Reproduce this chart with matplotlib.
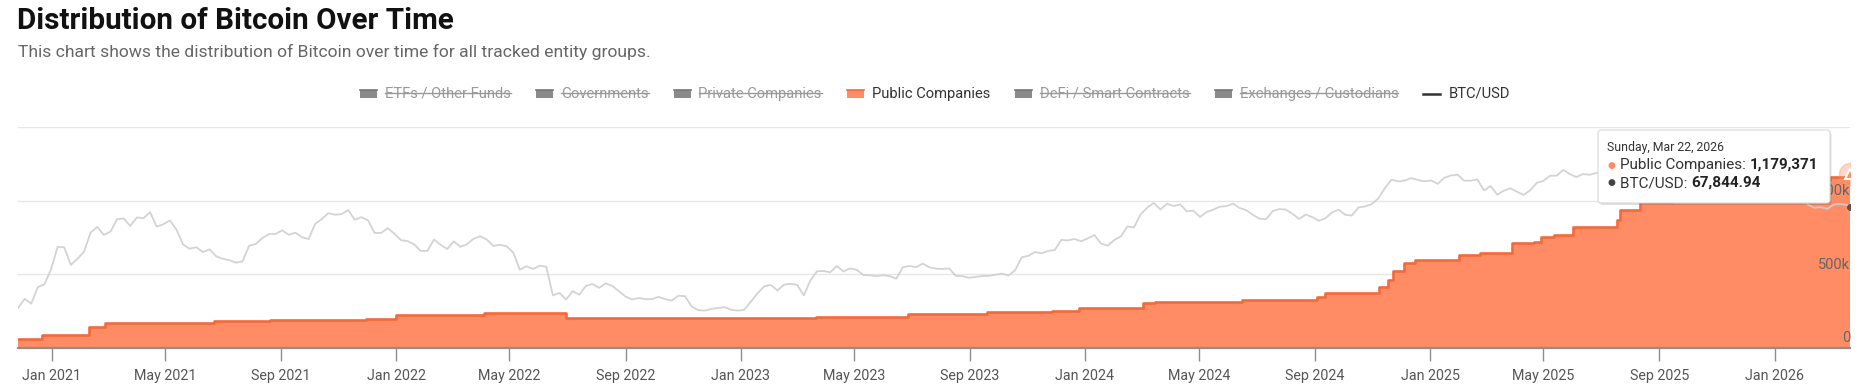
import matplotlib
matplotlib.use('Agg')
import matplotlib.pyplot as plt
import matplotlib.dates as mdates
from matplotlib.patches import Rectangle, FancyBboxPatch
from matplotlib.lines import Line2D
from matplotlib.transforms import IdentityTransform, blended_transform_factory
import pandas as pd

W, H = 1873, 390

# Public Companies holdings (BTC) -- step changes
pub_dates = ['2020-11-26', '2020-12-21', '2021-02-09', '2021-02-26', '2021-06-22',
             '2021-08-20', '2021-11-30', '2022-01-01', '2022-04-04', '2022-06-30',
             '2023-01-01', '2023-03-22', '2023-06-27', '2023-09-19', '2023-11-27',
             '2023-12-26', '2024-03-03', '2024-03-15', '2024-06-15', '2024-09-03',
             '2024-09-12', '2024-11-08', '2024-11-17', '2024-11-23', '2024-12-04',
             '2024-12-16', '2025-01-31', '2025-02-23', '2025-03-29', '2025-04-21',
             '2025-04-28', '2025-05-12', '2025-06-01', '2025-07-18', '2025-07-21',
             '2025-08-11', '2025-09-15', '2025-10-20', '2025-11-17', '2025-12-15',
             '2026-01-12', '2026-02-09', '2026-03-01', '2026-03-22']
pub_btc = [58000, 90000, 140000, 170000, 182000,
           188000, 197000, 222000, 239000, 203000,
           205000, 210000, 229000, 242000, 253000,
           273000, 307000, 314000, 325000, 348000,
           371000, 416000, 461000, 520000, 574000,
           597000, 631000, 646000, 710000, 721000,
           755000, 768000, 823000, 868000, 936000,
           993000, 1010000, 1040000, 1065000, 1095000,
           1120000, 1140000, 1160000, 1179371]

# BTC/USD, weekly (every Thursday starting 2020-11-26)
btc_start = '2020-11-26'
btc_2020 = [17150, 19450, 18250, 22800, 23700, 29000]
btc_2021 = [39400, 39150, 30850, 33500, 36900, 47900, 51600, 46300, 48400, 57300,
            57900, 52300, 58700, 58100, 63100, 51800, 53500, 56400, 49700, 40700,
            38400, 39200, 36700, 38100, 34700, 33500, 32900, 31800, 32300, 40000,
            40900, 44400, 46800, 46900, 49300, 46400, 47700, 44900, 43800, 53800,
            57400, 62200, 60900, 61400, 64900, 56900, 58900, 56500, 47600, 47600,
            50800, 47100]
btc_2022 = [43100, 42600, 40700, 37200, 37300, 43500, 40500, 38300, 42400, 39400,
            40900, 44000, 45500, 43400, 39900, 40500, 39700, 36500, 28900, 30300,
            29200, 30500, 30100, 20400, 21100, 19300, 21600, 20600, 23200, 23800,
            22600, 24000, 23200, 21600, 20100, 19300, 19700, 19400, 19400, 20000,
            19400, 19000, 20300, 20200, 17600, 16700, 16600, 17000, 17200, 17400,
            16800, 16600]
btc_2023 = [16800, 18800, 21000, 23100, 23500, 21800, 23600, 23900, 23500, 20400,
            25000, 28300, 28400, 27900, 30400, 28200, 29400, 28900, 26900, 26800,
            26500, 26800, 26500, 25600, 29900, 30400, 29900, 31400, 29900, 29300,
            29200, 29400, 26600, 26500, 25900, 26200, 26500, 26600, 27000, 27400,
            26700, 28700, 34200, 34900, 36700, 36100, 37300, 37700, 43300, 43000,
            43800, 42500]
btc_2024 = [44200, 46300, 41200, 40000, 43200, 45300, 51900, 51300, 61200, 67000,
            71400, 65400, 70700, 68500, 70000, 63800, 64300, 59100, 63100, 65200,
            67900, 68400, 70800, 66700, 64800, 60800, 57700, 57300, 63900, 65800,
            65300, 61700, 57500, 61000, 59000, 56100, 58100, 62900, 65200, 60800,
            60300, 67300, 68100, 70300, 75900, 87300, 98000, 95600, 96900, 100000,
            97500, 95800]
btc_2025 = [96900, 92500, 100500, 103700, 104700, 96600, 96600, 98300, 84700, 89900,
            80000, 84200, 87200, 83200, 79600, 84900, 93900, 96500, 103200, 103500,
            111700, 105600, 101500, 105700, 104600, 107300, 109600, 116000, 120000, 118400,
            115800, 117500, 118300, 112500, 112500, 110700, 115500, 117100, 109700, 120500,
            121700, 108200, 110000, 108300, 101300, 99700, 86600, 91300, 92100, 92500,
            85500, 87400]
btc_2026 = [88700, 91000, 95500, 89500, 84000, 70000, 67000, 67500, 66000, 70000,
            70500, 69500]
btc_last_date = '2026-03-22'
btc_last = 67844.94

legend_names = ['ETFs / Other Funds', 'Governments', 'Private Companies', 'Public Companies',
                'DeFi / Smart Contracts', 'Exchanges / Custodians', 'BTC/USD']
legend_hidden = [True, True, True, False, True, True, False]

x_ticks_months = [1, 5, 9]
right_ticks = [0, 500000, 1000000, 1500000]
right_labels = ['0', '500k', '1000k', '']

ORANGE = '#ff8c64'
ORANGE_LINE = '#f4693a'
BTC_GREY = '#cfcfcf'

plt.rcParams['font.family'] = ['Roboto', 'DejaVu Sans']


def fx(x):
    return x / W


def fy(y):
    return 1 - y / H


fig = plt.figure(figsize=(W / 100, H / 100), dpi=100)
fig.patch.set_facecolor('white')
renderer = fig.canvas.get_renderer()

# title + subtitle
fig.text(fx(17), fy(21), 'Distribution of Bitcoin Over Time', fontsize=21.3, fontweight='bold',
         color='#111111', va='center', ha='left')
fig.text(fx(18), fy(52), 'This chart shows the distribution of Bitcoin over time for all tracked entity groups.',
         fontsize=12.6, color='#666666', va='center', ha='left')

# legend, laid out by hand so hidden series can be struck through
SYM, GAP_T, GAP_I = 17, 8, 25
LEG_FS = 10.6
widths = []
for name in legend_names:
    t = fig.text(0, 0, name, fontsize=LEG_FS)
    widths.append(t.get_window_extent(renderer).width)
    t.remove()
total = sum(widths) + len(widths) * (SYM + GAP_T) + (len(widths) - 1) * GAP_I
lx, ly = 935 - total / 2, 94
for name, hidden, w in zip(legend_names, legend_hidden, widths):
    if name == 'BTC/USD':
        fig.add_artist(Line2D([fx(lx), fx(lx + SYM)], [fy(ly), fy(ly)], transform=fig.transFigure,
                              color='#333333', lw=1.8))
    else:
        col = '#8a8a8a' if hidden else ORANGE
        fig.patches.append(Rectangle((fx(lx), fy(ly + 4)), SYM / W, 8 / H, transform=fig.transFigure,
                                     facecolor=col, edgecolor='none'))
        top = '#777777' if hidden else ORANGE_LINE
        fig.add_artist(Line2D([fx(lx), fx(lx + SYM)], [fy(ly - 4), fy(ly - 4)], transform=fig.transFigure,
                              color=top, lw=1.2))
    t = fig.text(fx(lx + SYM + GAP_T), fy(ly), name, fontsize=LEG_FS, va='center', ha='left',
                 color='#999999' if hidden else '#333333')
    bb = t.get_window_extent(renderer)
    if hidden:
        ym = (bb.y0 + bb.y1) / 2 + 1
        fig.add_artist(Line2D([bb.x0, bb.x1], [ym, ym], transform=IdentityTransform(),
                              color='#999999', lw=1))
    lx = lx + SYM + GAP_T + w + GAP_I

# main axes
ax = fig.add_axes([fx(18), fy(348), (1850 - 18) / W, (348 - 127) / H])
pd_pub = pd.to_datetime(pub_dates)
ax.fill_between(pd_pub, pub_btc, step='post', color=ORANGE, lw=0, zorder=2)
ax.step(pd_pub, pub_btc, where='post', color=ORANGE_LINE, lw=1.9, zorder=3)

# BTC price on a hidden log axis
ax2 = ax.twinx()
btc_vals = btc_2020 + btc_2021 + btc_2022 + btc_2023 + btc_2024 + btc_2025 + btc_2026
btc_dates = list(pd.date_range(btc_start, periods=len(btc_vals), freq='7D')) + [pd.Timestamp(btc_last_date)]
btc_vals = btc_vals + [btc_last]
ax2.plot(btc_dates, btc_vals, color=BTC_GREY, lw=1.3, alpha=0.9, zorder=4)
ax2.set_yscale('log')
ax2.set_ylim(10000, 200000)
ax2.axis('off')

ax.set_xlim(pd.Timestamp('2020-11-26'), pd.Timestamp('2026-03-22'))
ax2.set_xlim(ax.get_xlim())
ax.set_ylim(0, 1500000)
ax.set_yticks(right_ticks)
ax.yaxis.grid(True, color='#e6e6e6', lw=1)
ax.set_axisbelow(True)
ax.tick_params(axis='y', left=False, right=False, labelleft=False, labelright=False)
for s in ['top', 'left', 'right']:
    ax.spines[s].set_visible(False)
ax.spines['bottom'].set_color('#8e8e8e')
ax.spines['bottom'].set_linewidth(1.6)
ax.spines['bottom'].set_zorder(5)

ax.xaxis.set_major_locator(mdates.MonthLocator(bymonth=x_ticks_months))
ax.xaxis.set_major_formatter(mdates.DateFormatter('%b %Y'))
ax.tick_params(axis='x', direction='out', length=9, width=1, color='#8e8e8e',
               labelsize=10.3, labelcolor='#555555', pad=6)

tr = blended_transform_factory(ax.transAxes, ax.transData)
for v, lab in zip(right_ticks, right_labels):
    if lab:
        ax2.annotate(lab, (1.0, v), xycoords=tr, xytext=(0, 2), textcoords='offset points',
                     ha='right', va='bottom', fontsize=10.5, color='#666666', zorder=6)

# hover markers at the last point
last_d = pd_pub[-1]
ax.plot([last_d], [pub_btc[-1]], 'o', ms=16, color=ORANGE, alpha=0.35, zorder=6)
ax.plot([last_d], [pub_btc[-1]], '^', ms=7, mfc=ORANGE, mec='white', mew=1.5, zorder=7)
ax2.plot([btc_dates[-1]], [btc_last], 'o', ms=4, color='#555555', zorder=7)

# tooltip
tx0, ty0, tx1, ty1 = 1598, 130, 1830, 203
fig.patches.append(FancyBboxPatch((tx0 + 1.5, H - ty1 - 2), tx1 - tx0, ty1 - ty0,
                                  boxstyle='round,pad=0,rounding_size=3', transform=IdentityTransform(),
                                  facecolor='#000000', alpha=0.12, edgecolor='none', zorder=8))
fig.patches.append(FancyBboxPatch((tx0, H - ty1), tx1 - tx0, ty1 - ty0,
                                  boxstyle='round,pad=0,rounding_size=3', transform=IdentityTransform(),
                                  facecolor='white', edgecolor='#d8d8d8', lw=0.8, zorder=9))
fig.text(fx(1607), fy(147), last_d.strftime('%A, %b %d, %Y'), fontsize=8.8, color='#333333',
         va='center', ha='left', zorder=10)
rows = [('Public Companies: ', f'{pub_btc[-1]:,}', ORANGE, 165),
        ('BTC/USD: ', f'{btc_last:,.2f}', '#444444', 183)]
for lab, val, dot, yy in rows:
    fig.text(fx(1607), fy(yy), '\u25cf', fontsize=6.5, color=dot, va='center', ha='left', zorder=10)
    t = fig.text(fx(1620), fy(yy), lab, fontsize=11, color='#333333', va='center', ha='left', zorder=10)
    bb = t.get_window_extent(renderer)
    fig.text(bb.x1 / W, fy(yy), val, fontsize=11, fontweight='bold', color='#222222',
             va='center', ha='left', zorder=10)

fig.savefig('out.png', dpi=100, facecolor='white')
